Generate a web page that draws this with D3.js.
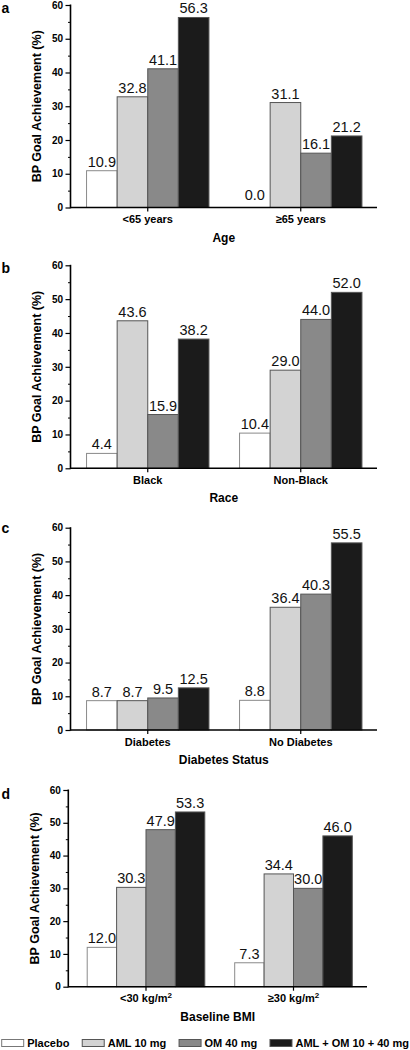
<!DOCTYPE html>
<html>
<head>
<meta charset="utf-8">
<script src="https://cdn.jsdelivr.net/npm/d3@7"></script>
<style>
  html, body { margin: 0; padding: 0; background: #fff; }
  svg { display: block; font-family: "Liberation Sans", Arial, Helvetica, sans-serif; }
</style>
</head>
<body>
<svg id="chart" width="410" height="1050"></svg>
<script>
// ---------- DATA ----------
const seriesNames = ["Placebo", "AML 10 mg", "OM 40 mg", "AML + OM 10 + 40 mg"];
const seriesColors = ["#ffffff", "#d3d3d3", "#898989", "#1b1b1b"];

const ageCategories = ["<65 years", "≥65 years"];
const ageValues = [[10.9, 32.8, 41.1, 56.3], [0.0, 31.1, 16.1, 21.2]];

const raceCategories = ["Black", "Non-Black"];
const raceValues = [[4.4, 43.6, 15.9, 38.2], [10.4, 29.0, 44.0, 52.0]];

const diabetesCategories = ["Diabetes", "No Diabetes"];
const diabetesValues = [[8.7, 8.7, 9.5, 12.5], [8.8, 36.4, 40.3, 55.5]];

const bmiCategories = ["<30 kg/m²", "≥30 kg/m²"];
const bmiValues = [[12.0, 30.3, 47.9, 53.3], [7.3, 34.4, 30.0, 46.0]];

const yTicks = [0, 10, 20, 30, 40, 50, 60];
const yMinorTicks = [5, 15, 25, 35, 45, 55];
const yTitle = "BP Goal Achievement (%)";

// ---------- LAYOUT ----------
const panels = [
  { letter: "a", letterY: 12.5, cats: ageCategories,      vals: ageValues,      title: "Age",
    axisX0: 70.5, axisX1: 377, band: [71.25, 377.25], yTop: 5,     yBot: 207.5, barW: 30.6 },
  { letter: "b", letterY: 273,  cats: raceCategories,     vals: raceValues,     title: "Race",
    axisX0: 70.5, axisX1: 377, band: [71.25, 377.25], yTop: 265.3, yBot: 468.3, barW: 30.6 },
  { letter: "c", letterY: 533,  cats: diabetesCategories, vals: diabetesValues, title: "Diabetes Status",
    axisX0: 70.5, axisX1: 377, band: [71.25, 377.25], yTop: 527.7, yBot: 730,   barW: 30.6 },
  { letter: "d", letterY: 799,  cats: bmiCategories,      vals: bmiValues,      title: "Baseline BMI",
    axisX0: 68.3, axisX1: 367, band: [72.25, 367.25], yTop: 790,   yBot: 986.7, barW: 29.4 }
];

const svg = d3.select("#chart");

function writeLabel(sel, label) {
  const parts = label.split("²");
  sel.text(null);
  sel.append("tspan").text(parts[0]);
  if (parts.length > 1) {
    sel.append("tspan").attr("font-size", 8).attr("dy", -4.5).text("2");
  }
}

panels.forEach(p => {
  const g = svg.append("g");
  const x = d3.scaleBand().domain(p.cats).range(p.band).padding(0);
  const xs = d3.scaleBand().domain(seriesNames)
    .range([-2 * p.barW, 2 * p.barW]).padding(0);
  const y = d3.scaleLinear().domain([0, 60]).range([p.yBot, p.yTop]);

  // bars
  p.cats.forEach((cat, ci) => {
    const cx = x(cat) + x.bandwidth() / 2;
    const gg = g.append("g").attr("transform", `translate(${cx},0)`);
    const rows = seriesNames.map((s, si) => ({ s, si, v: p.vals[ci][si] }));
    gg.selectAll("rect").data(rows).join("rect")
      .attr("x", d => xs(d.s))
      .attr("y", d => y(d.v))
      .attr("width", xs.bandwidth())
      .attr("height", d => p.yBot - y(d.v))
      .attr("fill", d => seriesColors[d.si])
      .attr("stroke", d => d.si === 0 ? "#8a8a8a" : "#555")
      .attr("stroke-width", 1);
    gg.selectAll("text.val").data(rows).join("text")
      .attr("class", "val")
      .attr("x", d => xs(d.s) + xs.bandwidth() / 2)
      .attr("y", d => y(d.v) - (d.v === 0 ? 7.5 : 4))
      .attr("text-anchor", "middle")
      .attr("font-size", 14.5)
      .attr("fill", "#111")
      .text(d => d.v.toFixed(1));
  });

  // y axis
  const yAxis = d3.axisLeft(y).tickValues(yTicks).tickSize(5).tickPadding(2.5)
    .tickFormat(d3.format("d"));
  const ya = g.append("g").attr("transform", `translate(${p.axisX0},0)`).call(yAxis);
  ya.select(".domain").remove();
  ya.selectAll(".tick line").attr("stroke", "#000").attr("stroke-width", 1.2);
  ya.selectAll(".tick text").attr("font-size", 10).attr("font-weight", "bold")
    .attr("font-family", "Liberation Sans, Arial, sans-serif").attr("fill", "#000");
  const yMinor = d3.axisLeft(y).tickValues(yMinorTicks).tickSize(2.5).tickFormat("");
  const ym = g.append("g").attr("transform", `translate(${p.axisX0},0)`).call(yMinor);
  ym.select(".domain").remove();
  ym.selectAll(".tick line").attr("stroke", "#000").attr("stroke-width", 1);
  g.append("line")
    .attr("x1", p.axisX0).attr("x2", p.axisX0)
    .attr("y1", p.yTop - 0.5).attr("y2", p.yBot + 0.75)
    .attr("stroke", "#000").attr("stroke-width", 1.6);

  // x axis
  const xAxis = d3.axisBottom(x).tickSize(4).tickPadding(3).tickFormat("");
  const xa = g.append("g").attr("transform", `translate(0,${p.yBot})`).call(xAxis);
  xa.select(".domain").remove();
  xa.selectAll(".tick line").attr("stroke", "#000").attr("stroke-width", 1.2);
  xa.selectAll(".tick").append("text")
    .attr("y", 15.5)
    .attr("text-anchor", "middle")
    .attr("font-size", 11).attr("font-weight", "bold").attr("fill", "#000")
    .each(function (d) { writeLabel(d3.select(this), d); });
  g.append("line")
    .attr("x1", p.axisX0).attr("x2", p.axisX1)
    .attr("y1", p.yBot).attr("y2", p.yBot)
    .attr("stroke", "#000").attr("stroke-width", 1.6);

  // axis titles
  g.append("text")
    .attr("transform", `translate(${p.axisX0 - 29.5},${(p.yTop + p.yBot) / 2}) rotate(-90)`)
    .attr("text-anchor", "middle")
    .attr("font-size", 12.5).attr("font-weight", "bold").attr("fill", "#000")
    .text(yTitle);
  g.append("text")
    .attr("x", (p.axisX0 + p.axisX1) / 2)
    .attr("y", p.yBot + 34)
    .attr("text-anchor", "middle")
    .attr("font-size", 12).attr("font-weight", "bold").attr("fill", "#000")
    .text(p.title);

  // panel letter
  g.append("text")
    .attr("x", 1.5).attr("y", p.letterY)
    .attr("font-size", 14).attr("font-weight", "bold").attr("fill", "#000")
    .text(p.letter);
});

// ---------- LEGEND ----------
const legend = svg.append("g");
const swW = 22, swH = 7, swGap = 3.5;
const legendY = 1046.5;
const items = legend.selectAll("g.item").data(seriesNames).join("g").attr("class", "item");
items.append("rect")
  .attr("width", swW).attr("height", swH)
  .attr("y", legendY - swH)
  .attr("fill", (d, i) => seriesColors[i])
  .attr("stroke", (d, i) => i === 0 ? "#777" : "#555")
  .attr("stroke-width", 1);
items.append("text")
  .attr("x", swW + swGap).attr("y", legendY)
  .attr("font-size", 11).attr("font-weight", "bold").attr("fill", "#000")
  .text(d => d);
const widths = [];
items.select("text").each(function () { widths.push(this.getComputedTextLength()); });
const startX = 1.7, endX = 409;
const used = d3.sum(widths) + seriesNames.length * (swW + swGap);
const gap = (endX - startX - used) / (seriesNames.length - 1);
let cur = startX;
items.attr("transform", (d, i) => {
  const t = `translate(${cur},0)`;
  cur += swW + swGap + widths[i] + gap;
  return t;
});
</script>
</body>
</html>
